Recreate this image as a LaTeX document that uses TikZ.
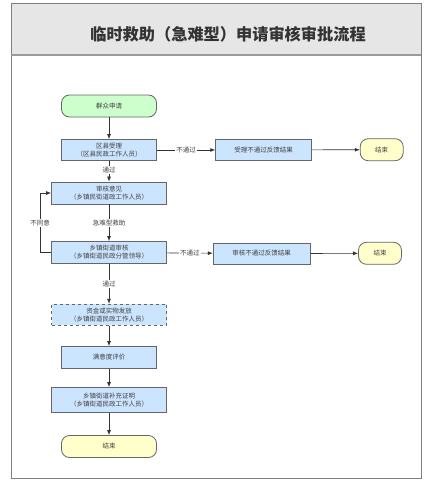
\documentclass[tikz,border=0pt]{standalone}
\usepackage{fontspec}
\setmainfont{Noto Sans CJK SC}
\usetikzlibrary{arrows.meta}
\definecolor{boxblue}{HTML}{CCE5FF}
\definecolor{boxgreen}{HTML}{CCFFCC}
\definecolor{boxyellow}{HTML}{FFFFCC}
\definecolor{bordergrey}{HTML}{666666}
\definecolor{txtgrey}{HTML}{404040}
\definecolor{titlegrey}{HTML}{E6E6E6}
\definecolor{framegrey}{HTML}{808080}
\definecolor{titletext}{HTML}{333333}
\tikzset{
  base/.style={draw=bordergrey, line width=0.8pt, inner sep=0pt, align=center,
    font=\fontsize{6.5}{8}\selectfont, text=txtgrey},
  procbox/.style={base, rectangle, fill=boxblue, minimum height=21pt},
  dashbox/.style={procbox, dashed},
  startpill/.style={base, rectangle, rounded corners=8pt, fill=boxgreen, minimum width=95pt, minimum height=22pt},
  endpill/.style={base, rectangle, rounded corners=8pt, fill=boxyellow, minimum height=22pt},
  conn/.style={draw=black!80, line width=0.7pt, -{Latex[length=5pt,width=4pt]}},
  lbl/.style={fill=white, inner sep=1pt, font=\fontsize{6.5}{8}\selectfont, text=txtgrey}
}
\begin{document}
\begin{tikzpicture}[x=1pt,y=-1pt]
\useasboundingbox (0,0) rectangle (428,487);
% frame and title
\fill[white] (0,0) rectangle (428,487);
\draw[framegrey, line width=1pt, fill=titlegrey] (11,4) rectangle (421,55);
\draw[framegrey, line width=1pt] (11,55) rectangle (421,478);
\draw[framegrey!80, line width=1.5pt] (11,55) -- (421,55);
\node[font=\fontsize{16.2}{19}\selectfont\bfseries, text=titletext] (title) at (228,34) {临时救助（急难型）申请审核审批流程};
% nodes
\node[startpill] (apply) at (109,106) {群众申请};
\node[procbox, minimum width=95pt] (county) at (109,150) {区县受理\\（区县民政工作人员）};
\node[procbox, minimum width=96pt] (rej1) at (263.7,150) {受理不通过反馈结果};
\node[endpill, minimum width=43pt] (end1) at (381.7,149.7) {结束};
\node[procbox, minimum width=115pt, minimum height=22pt] (opinion) at (109,193) {审核意见\\（乡镇民街道政工作人员）};
\node[procbox, minimum width=115pt, minimum height=22pt] (town) at (109,252.5) {乡镇街道审核\\（乡镇街道民政分管领导）};
\node[procbox, minimum width=97pt] (rej2) at (261.7,253.5) {审核不通过反馈结果};
\node[endpill, minimum width=43pt] (end2) at (380,253.3) {结束};
\node[dashbox, minimum width=115pt] (fund) at (109,314.7) {资金或实物发放\\（乡镇街道民政工作人员）};
\node[procbox, minimum width=95pt, minimum height=22pt] (eval) at (109,357.5) {满意度评价};
\node[procbox, minimum width=115pt, minimum height=25pt] (proof) at (109,400) {乡镇街道补充证明\\（乡镇街道民政工作人员）};
\node[startpill, fill=boxyellow] (end3) at (109,446.5) {结束};
% connectors
\draw[conn] (apply) -- (county);
\draw[conn] (county) -- node[lbl, pos=0.45] {通过} (opinion);
\draw[conn] (county) -- node[lbl, pos=0.5] {不通过} (rej1);
\draw[conn] (rej1) -- (end1);
\draw[conn] (opinion) -- node[lbl, pos=0.5] {急难型救助} (town);
\coordinate (loopb) at (40,252.5);
\coordinate (loopt) at (40,193);
\draw[conn] (town.west) -- (loopb) -- node[lbl, pos=0.5] {不同意} (loopt) -- (opinion.west);
\draw[conn] (town) -- node[lbl, pos=0.5] {不通过} (rej2);
\draw[conn] (rej2) -- (end2);
\draw[conn] (town) -- node[lbl, pos=0.5] {通过} (fund);
\draw[conn] (fund) -- (eval);
\draw[conn] (eval) -- (proof);
\draw[conn] (proof) -- (end3);
\end{tikzpicture}
\end{document}
